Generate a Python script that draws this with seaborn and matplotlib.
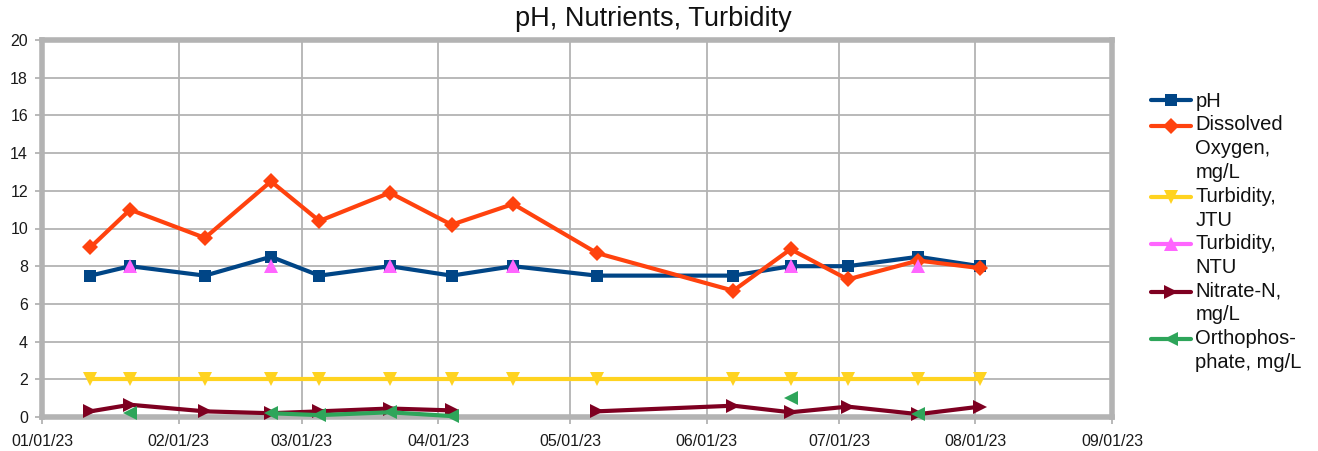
import numpy as np
import pandas as pd
import matplotlib
matplotlib.use("Agg")
import matplotlib.pyplot as plt
import matplotlib.dates as mdates
from matplotlib.lines import Line2D
from matplotlib.legend_handler import HandlerLine2D
import seaborn as sns

nan = np.nan
dates = ["2023-01-12", "2023-01-21", "2023-02-07", "2023-02-22", "2023-03-05",
         "2023-03-21", "2023-04-04", "2023-04-18", "2023-05-07", "2023-06-07",
         "2023-06-20", "2023-07-03", "2023-07-19", "2023-08-02"]
ph = [7.5, 8, 7.5, 8.5, 7.5, 8, 7.5, 8, 7.5, 7.5, 8, 8, 8.5, 8]
dissolved_oxygen = [9.0, 11.0, 9.5, 12.5, 10.4, 11.9, 10.2, 11.3, 8.7, 6.7, 8.9, 7.3, 8.3, 7.9]
turbidity_jtu = [2, 2, 2, 2, 2, 2, 2, 2, 2, 2, 2, 2, 2, 2]
turbidity_ntu = [nan, 8, nan, 8, nan, 8, nan, 8, nan, nan, 8, nan, 8, nan]
nitrate_n = [0.3, 0.65, 0.3, 0.2, 0.3, 0.45, 0.35, nan, 0.3, 0.6, 0.25, 0.55, 0.15, 0.55]
orthophosphate = [nan, 0.2, nan, 0.2, 0.1, 0.25, 0.05, nan, nan, nan, 1.0, nan, 0.15, nan]

series_labels = ["pH", "Dissolved\nOxygen,\nmg/L", "Turbidity,\nJTU", "Turbidity,\nNTU",
                 "Nitrate-N,\nmg/L", "Orthophos-\nphate, mg/L"]
series_values = [ph, dissolved_oxygen, turbidity_jtu, turbidity_ntu, nitrate_n, orthophosphate]
colors = ["#004586", "#ff420e", "#ffd320", "#ff66ff", "#7e0021", "#2ea55a"]
markers = ["s", "D", "v", "^", ">", "<"]
msizes = [9, 8, 10, 10, 10, 10]

x_ticks = pd.date_range("2023-01-01", "2023-09-01", freq="MS")
y_ticks = list(range(0, 21, 2))

sns.set_theme(style="white")
plt.rcParams["font.family"] = ["Liberation Sans", "DejaVu Sans"]

W, H = 1318, 451
fig = plt.figure(figsize=(W / 100, H / 100), dpi=100)
ax = fig.add_axes([42 / W, 1 - 417 / H, (1112 - 42) / W, (417 - 40) / H])

grid_c = "#b3b3b3"
x_dates = pd.to_datetime(dates)
for label, vals, c, m, ms in zip(series_labels, series_values, colors, markers, msizes):
    s = pd.Series(vals, dtype=float)
    df = pd.DataFrame({"date": x_dates, "value": s, "seg": s.isna().cumsum()})
    df = df.dropna()
    sns.lineplot(data=df, x="date", y="value", units="seg", estimator=None,
                 color=c, marker=m, markersize=ms, linewidth=3.0,
                 markeredgewidth=0, legend=False, sort=False, ax=ax,
                 clip_on=False, zorder=3)

ax.set_xlabel("")
ax.set_ylabel("")
ax.set_ylim(0, 20)
ax.set_yticks(y_ticks)
ax.set_xlim(x_ticks[0], x_ticks[-1])
ax.set_xticks(x_ticks)
ax.xaxis.set_major_formatter(mdates.DateFormatter("%m/%d/%y"))
ax.grid(True, color=grid_c, linewidth=1.3)
ax.set_axisbelow(True)
for sp in ax.spines.values():
    sp.set_color(grid_c)
    sp.set_linewidth(4)
    sp.set_zorder(2.5)
ax.tick_params(axis="both", which="major", length=5, width=1.3, color=grid_c,
               labelsize=11.5, labelcolor="#1a1a1a", bottom=True, left=True)
ax.tick_params(axis="y", pad=5)
ax.tick_params(axis="x", pad=7)

fig.text(653 / W, 1 - 19 / H, "pH, Nutrients, Turbidity", ha="center", va="center",
         fontsize=19.5, color="#111111")


class FirstLineHandler(HandlerLine2D):
    def __init__(self, shift, **kw):
        super().__init__(**kw)
        self.shift = shift

    def create_artists(self, legend, orig_handle, xdescent, ydescent, width, height,
                       fontsize, trans):
        arts = super().create_artists(legend, orig_handle, xdescent, ydescent, width,
                                      height, fontsize, trans)
        for a in arts:
            a.set_ydata(np.asarray(a.get_ydata()) + self.shift)
        return arts


spacing_pt = 23 * 0.72
handles = []
hmap = {}
for label, c, m, ms in zip(series_labels, colors, markers, msizes):
    h = Line2D([], [], color=c, marker=m, markersize=ms, linewidth=3.0, markeredgewidth=0)
    handles.append(h)
    n = label.count("\n") + 1
    hmap[h] = FirstLineHandler((n - 1) / 2 * spacing_pt)

leg = fig.legend(handles, series_labels, handler_map=hmap, loc="upper left",
                 bbox_to_anchor=(1151 / W, 1 - 92 / H), bbox_transform=fig.transFigure,
                 frameon=False, fontsize=14.5, handlelength=2.0, handletextpad=0.2,
                 labelspacing=0.21, borderpad=0, borderaxespad=0)
for t in leg.get_texts():
    t.set_linespacing(1.34)
    t.set_color("#111111")

fig.savefig("out.png", dpi=100)
